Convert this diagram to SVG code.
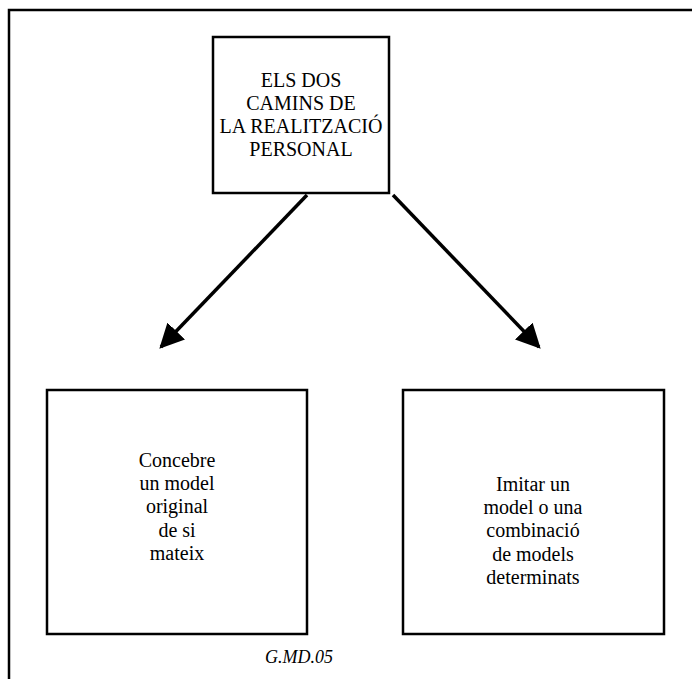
<svg xmlns="http://www.w3.org/2000/svg" width="692" height="679" viewBox="0 0 692 679">
<style>
.box{fill:#fff;stroke:#000;stroke-width:2.5}
.t{font-family:"Liberation Serif","Times New Roman",serif;font-size:20px;fill:#000;text-anchor:middle}
.cap{font-family:"Liberation Serif","Times New Roman",serif;font-size:18px;font-style:italic;fill:#000;text-anchor:middle}
.conn{stroke:#000;stroke-width:3.5;fill:none}
</style>
<defs>
<marker id="ah" viewBox="0 0 10 10" refX="9" refY="5" markerWidth="7" markerHeight="7" markerUnits="strokeWidth" orient="auto">
<path d="M0,0 L10,5 L0,10 Z" fill="#000"/>
</marker>
</defs>
<rect width="692" height="679" fill="#fff"/>
<g id="frame">
<path d="M9,679 V10 H692" fill="none" stroke="#000" stroke-width="2.5"/>
</g>
<g id="top">
<rect class="box" x="213" y="37" width="176" height="156"/>
<text class="t" x="301" y="87">ELS DOS</text>
<text class="t" x="301" y="110">CAMINS DE</text>
<text class="t" x="301" y="133">LA REALITZACIÓ</text>
<text class="t" x="301" y="156">PERSONAL</text>
</g>
<g id="connectors">
<line class="conn" x1="307" y1="195" x2="161" y2="347" marker-end="url(#ah)"/>
<line class="conn" x1="393" y1="195" x2="539" y2="347" marker-end="url(#ah)"/>
</g>
<g id="left">
<rect class="box" x="47" y="390" width="260" height="244"/>
<text class="t" x="177" y="467">Concebre</text>
<text class="t" x="177" y="490">un model</text>
<text class="t" x="177" y="513">original</text>
<text class="t" x="177" y="537">de si</text>
<text class="t" x="177" y="560">mateix</text>
</g>
<g id="right">
<rect class="box" x="403" y="390" width="261" height="244"/>
<text class="t" x="533" y="491">Imitar un</text>
<text class="t" x="533" y="514">model o una</text>
<text class="t" x="533" y="537">combinació</text>
<text class="t" x="533" y="561">de models</text>
<text class="t" x="533" y="584">determinats</text>
</g>
<g id="caption">
<text class="cap" x="299" y="663">G.MD.05</text>
</g>
</svg>
